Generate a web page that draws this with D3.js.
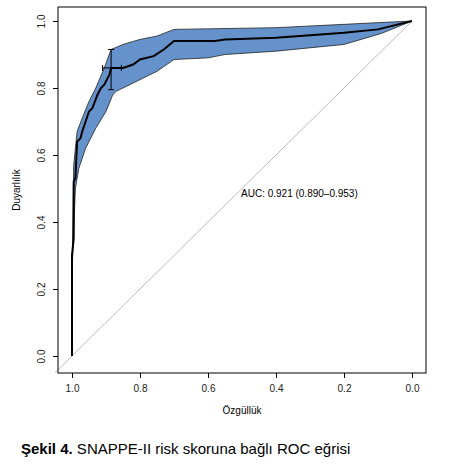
<!DOCTYPE html>
<html><head><meta charset="utf-8">
<script src="https://cdn.jsdelivr.net/npm/d3@7"></script>
<style>body{margin:0;background:#fff}text{font-family:"Liberation Sans",Arial,sans-serif}</style>
</head><body>
<script>
// ROC curve: [specificity, sensitivity]
var rocSpec = [1, 1, 0.995, 0.995, 0.99, 0.985, 0.975, 0.97, 0.96, 0.95, 0.94, 0.925, 0.915, 0.905, 0.89, 0.885, 0.85, 0.82, 0.80, 0.76, 0.73, 0.70, 0.58, 0.55, 0.40, 0.20, 0.10, 0];
var rocSens = [0, 0.3, 0.35, 0.52, 0.53, 0.64, 0.65, 0.67, 0.70, 0.73, 0.74, 0.78, 0.80, 0.81, 0.84, 0.86, 0.86, 0.87, 0.885, 0.895, 0.915, 0.94, 0.94, 0.945, 0.95, 0.965, 0.975, 1];
// confidence band
var upSpec = [1, 0.995, 0.985, 0.97, 0.95, 0.93, 0.905, 0.885, 0.85, 0.80, 0.75, 0.70, 0.40, 0.20, 0];
var upSens = [0.25, 0.57, 0.67, 0.71, 0.76, 0.80, 0.86, 0.915, 0.93, 0.945, 0.955, 0.975, 0.98, 0.99, 1];
var loSpec = [1, 0.99, 0.98, 0.96, 0.93, 0.90, 0.88, 0.87, 0.83, 0.78, 0.75, 0.70, 0.60, 0.55, 0.40, 0.20, 0.09, 0];
var loSens = [0.25, 0.5, 0.56, 0.62, 0.68, 0.73, 0.78, 0.79, 0.81, 0.835, 0.85, 0.885, 0.89, 0.90, 0.91, 0.93, 0.963, 1];
// threshold CI cross
var ciSpec = [0.91, 0.885, 0.855];
var ciSens = [0.795, 0.86, 0.915];
var ticks = [1.0, 0.8, 0.6, 0.4, 0.2, 0.0];

var svg = d3.select("body").append("svg").attr("width", 458).attr("height", 469);
var x = d3.scaleLinear().domain([1, 0]).range([72, 412]);
var y = d3.scaleLinear().domain([0, 1]).range([356, 21]);

// banda di confidenza
var band = upSpec.map((s, i) => [s, upSens[i]]).concat(loSpec.map((s, i) => [s, loSens[i]]).reverse());
svg.append("path")
    .attr("d", d3.line().x(d => x(d[0])).y(d => y(d[1]))(band) + "Z")
    .attr("fill", "#6592cb").attr("stroke", "#222").attr("stroke-width", 0.8);

// diagonale
svg.append("line").attr("x1", x(1.05)).attr("y1", y(-0.05)).attr("x2", x(0)).attr("y2", y(1))
    .attr("stroke", "#aaa").attr("stroke-width", 0.8);

// curva ROC
svg.append("path")
    .attr("d", d3.line().x(d => x(d[0])).y(d => y(d[1]))(rocSpec.map((s, i) => [s, rocSens[i]])))
    .attr("fill", "none").attr("stroke", "#000").attr("stroke-width", 2);

// croce CI
var g = svg.append("g").attr("stroke", "#000").attr("stroke-width", 1);
g.append("line").attr("x1", x(ciSpec[1])).attr("x2", x(ciSpec[1])).attr("y1", y(ciSens[0])).attr("y2", y(ciSens[2]));
g.append("line").attr("x1", x(ciSpec[0])).attr("x2", x(ciSpec[2])).attr("y1", y(ciSens[1])).attr("y2", y(ciSens[1]));
[ciSens[0], ciSens[2]].forEach(v => g.append("line").attr("x1", x(ciSpec[1]) - 3).attr("x2", x(ciSpec[1]) + 3).attr("y1", y(v)).attr("y2", y(v)));
[ciSpec[0], ciSpec[2]].forEach(v => g.append("line").attr("x1", x(v)).attr("x2", x(v)).attr("y1", y(ciSens[1]) - 3).attr("y2", y(ciSens[1]) + 3));

// riquadro
svg.append("rect").attr("x", 58).attr("y", 7).attr("width", 368).attr("height", 366)
    .attr("fill", "none").attr("stroke", "#000");

// assi
svg.append("g").attr("transform", "translate(0,373)")
    .call(d3.axisBottom(x).tickValues(ticks).tickFormat(d3.format(".1f")).tickSize(5).tickSizeOuter(0))
    .call(a => a.select(".domain").remove())
    .call(a => a.selectAll("text").attr("font-size", 10).attr("dy", "1.1em").attr("fill", "#222"));
svg.append("g").attr("transform", "translate(58,0)")
    .call(d3.axisLeft(y).tickValues(ticks).tickFormat(d3.format(".1f")).tickSize(5).tickSizeOuter(0))
    .call(a => a.select(".domain").remove())
    .call(a => a.selectAll("text").attr("font-size", 10).attr("fill", "#222")
        .attr("x", 0).attr("y", 0).attr("dy", 0).attr("text-anchor", "middle")
        .attr("transform", "translate(-13,0) rotate(-90)"));

svg.append("text").attr("x", 242).attr("y", 414).attr("text-anchor", "middle").attr("font-size", 10).text("Özgüllük");
svg.append("text").attr("transform", "translate(20,190) rotate(-90)").attr("text-anchor", "middle").attr("font-size", 10).text("Duyarlılık");
svg.append("text").attr("x", 241).attr("y", 197).attr("font-size", 10).text("AUC: 0.921 (0.890\u20130.953)");

var cap = svg.append("text").attr("x", 21).attr("y", 454).attr("font-size", 15);
cap.append("tspan").attr("font-weight", "bold").text("Şekil 4.");
cap.append("tspan").text(" SNAPPE-II risk skoruna bağlı ROC eğrisi");
</script>
</body></html>
